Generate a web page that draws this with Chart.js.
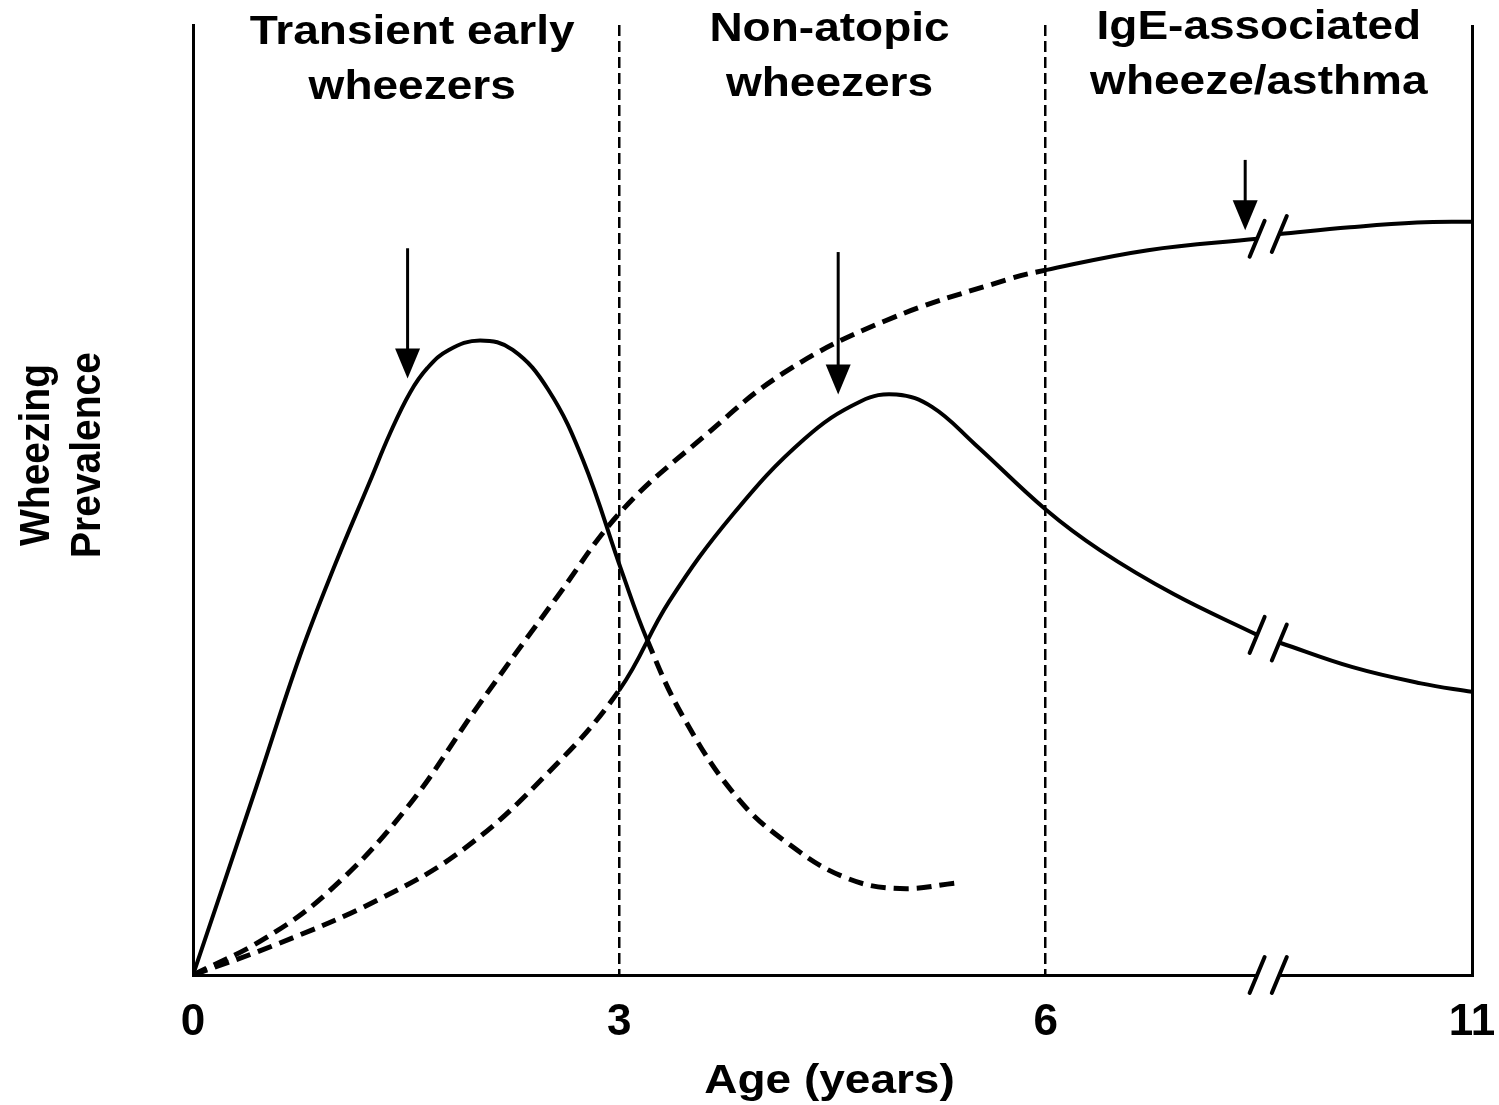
<!DOCTYPE html>
<html>
<head>
<meta charset="utf-8">
<title>Wheezing prevalence by age</title>
<script src="https://cdn.jsdelivr.net/npm/chart.js@4.4.1/dist/chart.umd.min.js"></script>
<style>
    html, body { margin: 0; padding: 0; background: #fff; }
    canvas { display: block; }
</style>
</head>
<body>
<canvas id="wheezeChart" width="1499" height="1105"></canvas>
<script>
// Age axis (years) - broken between 6 and 11
const AGE_TICKS = [0, 3, 6, 11];
const TICK_LABELS = ["0", "3", "6", "11"];
const ZONE_EDGES = [0, 3, 6, 11];
const ZONE_TITLES = [
    ["Transient early", "wheezers"],
    ["Non-atopic", "wheezers"],
    ["IgE-associated", "wheeze/asthma"]
];
const BREAK_AGES = [8.48, 8.74];

// Transient early wheezers (solid, then dashed after ~3.2 yrs)
const TRANSIENT_AGES = [0, 0.45, 0.75, 1.0, 1.246, 1.386, 1.527, 1.65, 1.8, 2.02, 2.25, 2.5, 2.744, 3.019, 3.195, 3.448, 3.828, 4.2, 4.6, 4.975, 5.383];
const TRANSIENT_VALUES = [0, 20.0, 33.5, 43.2, 52.0, 57.0, 61.3, 63.9, 65.8, 66.8, 65.8, 61.6, 54.2, 42.4, 35.3, 27.2, 18.7, 13.7, 10.2, 9.1, 9.7];
const TRANSIENT_DASH_FROM = 3.195;

// Non-atopic wheezers (dashed until 3 yrs, then solid)
const NONATOPIC_AGES = [0, 0.6, 1.3, 1.9, 2.5, 3.0, 3.35, 3.8, 4.3, 4.7, 4.95, 5.2, 5.5, 6.0, 6.64, 7.5, 8.48, 8.61, 8.74, 9.6, 10.4, 11];
const NONATOPIC_VALUES = [0, 3.3, 7.9, 13.2, 21.3, 30.0, 39.3, 48.5, 56.4, 60.4, 61.1, 59.8, 55.9, 49.0, 44.7, 40.1, 35.8, null, 35.0, 32.4, 30.7, 29.8];
const NONATOPIC_DASH_UNTIL = 3;

// IgE-associated wheeze/asthma (dashed until 6 yrs, then solid)
const IGE_AGES = [0, 0.5, 0.964, 1.5, 2.0, 2.562, 3.019, 3.589, 4.159, 4.877, 5.728, 6.0, 7.2, 8.48, 8.61, 8.74, 9.57, 10.355, 11];
const IGE_VALUES = [0, 3.8, 8.9, 17.5, 28.2, 39.8, 48.9, 56.6, 63.4, 68.9, 73.2, 74.2, 76.3, 77.5, null, 78.0, 78.7, 79.2, 79.3];
const IGE_DASH_UNTIL = 6;

// Arrows: age, start value, tip value
const ARROW_AGES = [1.51, 4.54, 8.34];
const ARROW_FROM = [76.5, 76.1, 85.8];
const ARROW_TO = [62.8, 61.1, 78.4];

// Style
const FONT = '"Liberation Sans", Arial, Helvetica, sans-serif';
const CURVE_DASH = [15, 8];
const STRETCH = 1.15; // original lettering is a bit wide

// axis position: 0-6 linear, 6-11 squeezed into the width of 3 years
function agePos(age) {
    return age <= 6 ? age : 6 + (age - 6) * 3 / 5;
}

function toPoints(ages, values) {
    return ages.map((a, i) => ({ x: agePos(a), y: values[i] }));
}

function drawSlash(ctx, cx, cy) {
    ctx.save();
    ctx.strokeStyle = "#000";
    ctx.lineWidth = 4;
    ctx.lineCap = "round";
    ctx.beginPath();
    ctx.moveTo(cx - 7.5, cy + 18);
    ctx.lineTo(cx + 7.5, cy - 18);
    ctx.stroke();
    ctx.restore();
}

function drawArrow(ctx, px, yTop, yTip) {
    const headH = 30, headW = 12.5;
    ctx.save();
    ctx.strokeStyle = "#000";
    ctx.fillStyle = "#000";
    ctx.lineWidth = 3;
    ctx.beginPath();
    ctx.moveTo(px, yTop);
    ctx.lineTo(px, yTip - headH + 2);
    ctx.stroke();
    ctx.beginPath();
    ctx.moveTo(px - headW, yTip - headH);
    ctx.lineTo(px + headW, yTip - headH);
    ctx.lineTo(px, yTip);
    ctx.closePath();
    ctx.fill();
    ctx.restore();
}

function drawWide(ctx, text, cx, baseline, size) {
    ctx.save();
    ctx.translate(cx, baseline);
    ctx.scale(STRETCH, 1);
    ctx.font = `bold ${size}px ${FONT}`;
    ctx.fillStyle = "#000";
    ctx.textAlign = "center";
    ctx.textBaseline = "alphabetic";
    ctx.fillText(text, 0, 0);
    ctx.restore();
}

const wheezeAnnotations = {
    id: "wheezeAnnotations",
    afterDatasetsDraw(chart) {
        const { ctx, chartArea, scales: { x, y } } = chart;

        // break marks where the curves are interrupted
        chart.data.datasets.forEach((ds, di) => {
            const meta = chart.getDatasetMeta(di);
            ds.data.forEach((pt, i) => {
                if (pt.y === null) return;
                const prev = ds.data[i - 1];
                const next = ds.data[i + 1];
                if ((prev && prev.y === null) || (next && next.y === null)) {
                    drawSlash(ctx, meta.data[i].x, meta.data[i].y);
                }
            });
        });

        // break on the age axis
        const bx0 = x.getPixelForValue(agePos(BREAK_AGES[0]));
        const bx1 = x.getPixelForValue(agePos(BREAK_AGES[1]));
        ctx.save();
        ctx.fillStyle = "#fff";
        ctx.fillRect(bx0, chartArea.bottom - 4, bx1 - bx0, 8);
        ctx.restore();
        drawSlash(ctx, bx0, chartArea.bottom);
        drawSlash(ctx, bx1, chartArea.bottom);

        // arrows
        ARROW_AGES.forEach((a, i) => {
            drawArrow(ctx, x.getPixelForValue(agePos(a)), y.getPixelForValue(ARROW_FROM[i]), y.getPixelForValue(ARROW_TO[i]));
        });
    },
    afterDraw(chart) {
        const { ctx, chartArea, scales: { x } } = chart;
        const headerBaselines = [[44, 99], [41, 96], [39, 94]];
        const headerShift = [6, -3, 0];

        ZONE_TITLES.forEach((lines, i) => {
            const cx = (x.getPixelForValue(agePos(ZONE_EDGES[i])) + x.getPixelForValue(agePos(ZONE_EDGES[i + 1]))) / 2 + headerShift[i];
            lines.forEach((line, j) => drawWide(ctx, line, cx, headerBaselines[i][j], 40));
        });

        // x title
        drawWide(ctx, "Age (years)", (chartArea.left + chartArea.right) / 2 - 3, 1093, 40);

        // y title, two rotated lines
        ["Wheezing", "Prevalence"].forEach((line, j) => {
            ctx.save();
            ctx.translate(j === 0 ? 49 : 100, 455);
            ctx.rotate(-Math.PI / 2);
            ctx.scale(1, 1.1);
            ctx.font = `bold 39px ${FONT}`;
            ctx.fillStyle = "#000";
            ctx.textAlign = "center";
            ctx.textBaseline = "alphabetic";
            ctx.fillText(line, 0, 0);
            ctx.restore();
        });
    }
};

const zoneTicks = AGE_TICKS.slice(1, -1).map(agePos);

const curveBase = {
    borderColor: "#000",
    borderWidth: 4,
    pointRadius: 0,
    pointHoverRadius: 0,
    fill: false,
    spanGaps: false,
    tension: 0.4
};

new Chart(document.getElementById("wheezeChart"), {
    type: "line",
    data: {
        datasets: [
            {
                ...curveBase,
                label: "Transient early wheezers",
                data: toPoints(TRANSIENT_AGES, TRANSIENT_VALUES),
                segment: {
                    borderDash: ctx => ctx.p0.parsed.x >= agePos(TRANSIENT_DASH_FROM) - 1e-6 ? CURVE_DASH : undefined,
                    borderWidth: ctx => ctx.p0.parsed.x >= agePos(TRANSIENT_DASH_FROM) - 1e-6 ? 5 : undefined
                }
            },
            {
                ...curveBase,
                label: "Non-atopic wheezers",
                data: toPoints(NONATOPIC_AGES, NONATOPIC_VALUES),
                segment: {
                    borderDash: ctx => ctx.p1.parsed.x <= agePos(NONATOPIC_DASH_UNTIL) + 1e-6 ? CURVE_DASH : undefined,
                    borderWidth: ctx => ctx.p1.parsed.x <= agePos(NONATOPIC_DASH_UNTIL) + 1e-6 ? 5 : undefined
                }
            },
            {
                ...curveBase,
                label: "IgE-associated wheeze/asthma",
                data: toPoints(IGE_AGES, IGE_VALUES),
                segment: {
                    borderDash: ctx => ctx.p1.parsed.x <= agePos(IGE_DASH_UNTIL) + 1e-6 ? CURVE_DASH : undefined,
                    borderWidth: ctx => ctx.p1.parsed.x <= agePos(IGE_DASH_UNTIL) + 1e-6 ? 5 : undefined
                }
            }
        ]
    },
    options: {
        responsive: false,
        animation: false,
        layout: { padding: { top: 25, right: 27, bottom: 0, left: 0 } },
        plugins: {
            legend: { display: false },
            tooltip: { enabled: false }
        },
        scales: {
            x: {
                type: "linear",
                min: 0,
                max: agePos(11),
                afterBuildTicks: scale => {
                    scale.ticks = AGE_TICKS.map(a => ({ value: agePos(a) }));
                },
                afterFit: scale => {
                    scale.height = 130;
                    scale.paddingLeft = 0;
                    scale.paddingRight = 0;
                },
                ticks: {
                    color: "#000",
                    padding: 21,
                    autoSkip: false,
                    maxRotation: 0,
                    font: { family: FONT, weight: "bold", size: 44, lineHeight: 1.2 },
                    callback: (value, i) => TICK_LABELS[i]
                },
                grid: {
                    color: "#000",
                    drawTicks: false,
                    lineWidth: ctx => (ctx.tick && zoneTicks.includes(ctx.tick.value)) ? 2.5 : 3
                },
                border: {
                    display: true,
                    color: "#000",
                    width: 3,
                    dash: ctx => (ctx.tick && zoneTicks.includes(ctx.tick.value)) ? [11, 5] : []
                }
            },
            y: {
                min: 0,
                max: 100,
                afterFit: scale => { scale.width = 193; },
                ticks: { display: false },
                grid: { display: false },
                border: { display: true, color: "#000", width: 3 }
            }
        }
    },
    plugins: [wheezeAnnotations]
});
</script>
</body>
</html>
